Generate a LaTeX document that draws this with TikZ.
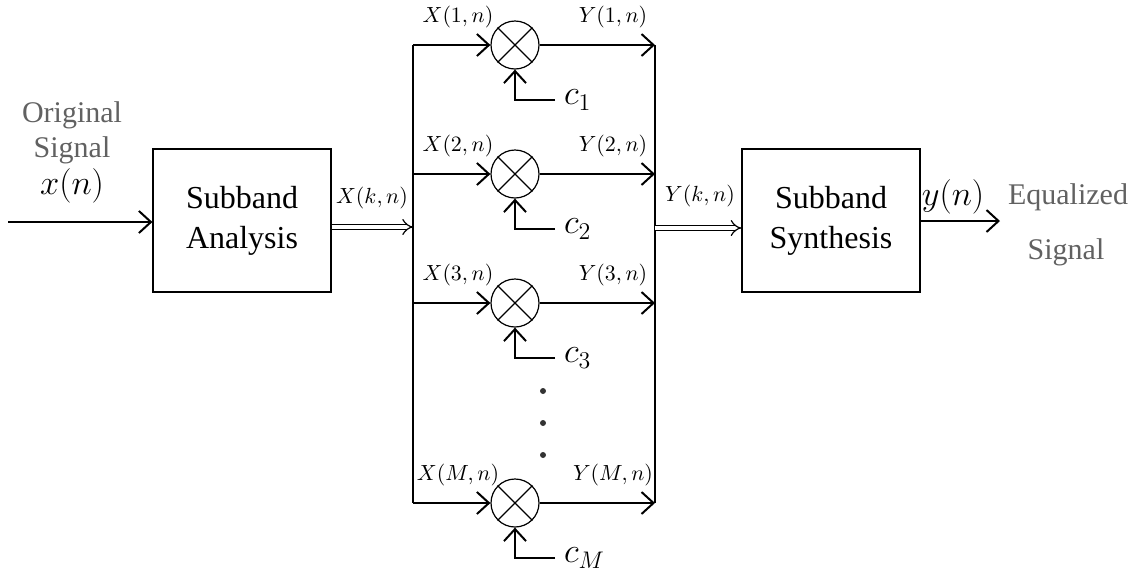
\documentclass[tikz,border=0pt]{standalone}
\usepackage{fontspec}
\setmainfont{Liberation Serif}
\newfontfamily\timesfont{Liberation Serif}
\usetikzlibrary{arrows.meta, positioning}

\tikzset{
  blockbox/.style={draw, line width=0.6pt, align=center, minimum width=89pt,
                   minimum height=71.5pt, font=\timesfont\fontsize{16}{20}\selectfont},
  mulnode/.style={draw, circle, line width=0.6pt, minimum size=24pt, inner sep=0pt},
  sig/.style={line width=1pt, -{Straight Barb[length=6pt,width=11pt]}},
  dblsig/.style={double, double distance=2.2pt, line width=0.6pt, -{Implies}},
  smalllab/.style={font=\fontsize{11}{13}\selectfont},
  biglab/.style={font=\fontsize{16.5}{19}\selectfont},
  graytext/.style={text=black!62, font=\timesfont\fontsize{15}{17}\selectfont},
}

\begin{document}
\begin{tikzpicture}[x=0.5pt, y=-0.5pt]
  \useasboundingbox (0,0) rectangle (1142,575);

  % the two blocks
  \node[blockbox] (ana) at (242,220.5) {Subband\\Analysis};
  \node[blockbox] (syn) at (831,220.5) {Subband\\Synthesis};

  % input side
  \coordinate (in) at (8,222);
  \node[graytext] (orig1) at (72,115) {Original};
  \node[graytext] (orig2) at (72,150) {Signal};
  \node[biglab] (xn) at (72,186) {$x(n)$};
  \draw[sig] (in) -- (ana.west |- in);

  % branches
  \foreach \i/\y in {1/45, 2/174, 3/303, M/503} {
    \coordinate (xin\i) at (413,\y);
    \coordinate (yout\i) at (655,\y);
    \coordinate (cin\i) at (555,\y+55);
    \node[mulnode] (mul\i) at (515,\y) {};
    \draw[line width=0.6pt] (mul\i.north west) -- (mul\i.south east)
                            (mul\i.north east) -- (mul\i.south west);
    \draw[sig] (xin\i) -- (mul\i);
    \draw[sig] (mul\i) -- (yout\i);
    \draw[sig] (cin\i) -| (mul\i.south);
    \node[right=1pt of cin\i, biglab] (c\i) {$c_{\i}$};
    \node[smalllab] (xl\i) at (458,\y-28) {$X(\i,n)$};
    \node[smalllab] (yl\i) at (613,\y-28) {$Y(\i,n)$};
  }

  % buses
  \draw[line width=1pt] (xin1) -- (xinM);
  \draw[line width=1pt] (yout1) -- (youtM);
  \foreach \d in {391, 423, 455}
    \fill[black!80] (543,\d) circle (3);

  % double arrows
  \coordinate (busl) at (413,227);
  \coordinate (busr) at (655,228);
  \draw[dblsig] (ana.east |- busl) -- (busl);
  \draw[dblsig] (busr) -- (syn.west |- busr);
  \node[smalllab] (xkn) at (372,198) {$X(k,n)$};
  \node[smalllab] (ykn) at (700,196) {$Y(k,n)$};

  % output side
  \coordinate (out) at (1000,221);
  \draw[sig] (syn.east |- out) -- (out);
  \node[biglab] (yn) at (953,197) {$y(n)$};
  \node[graytext] (eq1) at (1068,197) {Equalized};
  \node[graytext] (eq2) at (1066,252) {Signal};
\end{tikzpicture}
\end{document}
